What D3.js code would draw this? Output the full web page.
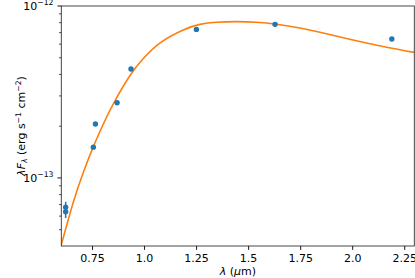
<!DOCTYPE html>
<meta charset="utf-8">
<style>
body { margin: 0; background: #fff; }
text { font-family: "DejaVu Sans", sans-serif; fill: #000; }
</style>
<svg width="415" height="278"></svg>
<script src="https://d3js.org/d3.v7.min.js"></script>
<script>
// photometry (wavelength in micron, lambda*F_lambda in erg/s/cm2)
var obsWave = [0.621, 0.621, 0.754, 0.764, 0.868, 0.935, 1.249, 1.627, 2.188];
var obsFlux = [6.76e-14, 6.37e-14, 1.51e-13, 2.06e-13, 2.74e-13, 4.30e-13, 7.31e-13, 7.82e-13, 6.43e-13];
var obsErr  = [5.2e-15, 5.2e-15, 1.5e-15, 2e-15, 2.5e-15, 4e-15, 7e-15, 8e-15, 6e-15];

// model curve
var modelWave = [0.600, 0.658, 0.706, 0.754, 0.802, 0.850, 0.930, 0.994, 1.075, 1.186,
                 1.266, 1.346, 1.442, 1.538, 1.634, 1.746, 1.858, 1.986, 2.146, 2.296];
var modelFlux = [4.08e-14, 7.24e-14, 1.079e-13, 1.52e-13, 2.06e-13, 2.70e-13, 3.94e-13, 4.95e-13,
                 6.11e-13, 7.26e-13, 7.82e-13, 8.04e-13, 8.11e-13, 8.04e-13, 7.83e-13, 7.45e-13,
                 6.97e-13, 6.41e-13, 5.81e-13, 5.37e-13];

var xTicks = [0.75, 1.0, 1.25, 1.5, 1.75, 2.0, 2.25];
var xTickLabels = ["0.75", "1.0", "1.25", "1.5", "1.75", "2.0", "2.25"];
var yMajor = [1e-13, 1e-12];
var yMajorExp = ["\u221213", "\u221212"];

var svg = d3.select("svg"),
    pLeft = 61.3, pRight = 414.3, pTop = 6, pBottom = 246,
    fs = 11, fsSup = 7.7, majorLen = 3.9, minorLen = 2.2;

var x = d3.scaleLinear().domain([0.6, 2.296]).range([pLeft, pRight]);
var y = d3.scaleLog().domain([4.02e-14, 1e-12]).range([pBottom, pTop]);

// clip for the curve
svg.append("clipPath").attr("id", "clip")
  .append("rect").attr("x", pLeft).attr("y", pTop)
  .attr("width", pRight - pLeft).attr("height", pBottom - pTop);

var plot = svg.append("g").attr("clip-path", "url(#clip)");

var line = d3.line()
  .x(function(d, i) { return x(modelWave[i]); })
  .y(function(d) { return y(d); })
  .curve(d3.curveNatural);

plot.append("path")
  .datum(modelFlux)
  .attr("d", line)
  .attr("fill", "none")
  .attr("stroke", "#ff7f0e")
  .attr("stroke-width", 1.6);

// error bars
plot.selectAll(".err")
  .data(obsFlux)
  .enter().append("line")
  .attr("x1", function(d, i) { return x(obsWave[i]); })
  .attr("x2", function(d, i) { return x(obsWave[i]); })
  .attr("y1", function(d, i) { return y(d - obsErr[i]); })
  .attr("y2", function(d, i) { return y(d + obsErr[i]); })
  .attr("stroke", "#1f77b4")
  .attr("stroke-width", 1.5);

plot.selectAll(".pt")
  .data(obsFlux)
  .enter().append("circle")
  .attr("cx", function(d, i) { return x(obsWave[i]); })
  .attr("cy", function(d) { return y(d); })
  .attr("r", 2.7)
  .attr("fill", "#1f77b4");

// frame
svg.append("rect")
  .attr("x", pLeft).attr("y", pTop)
  .attr("width", pRight - pLeft).attr("height", pBottom - pTop)
  .attr("fill", "none").attr("stroke", "#333").attr("stroke-width", 0.9);

// x axis ticks
var xg = svg.append("g");
xTicks.forEach(function(t, i) {
  xg.append("line").attr("x1", x(t)).attr("x2", x(t))
    .attr("y1", pBottom).attr("y2", pBottom + majorLen)
    .attr("stroke", "#000").attr("stroke-width", 0.9);
  xg.append("text").attr("x", x(t)).attr("y", 261.5)
    .attr("text-anchor", "middle").attr("font-size", fs)
    .text(xTickLabels[i]);
});

// y axis ticks
var yg = svg.append("g");
var minor = [];
[-14, -13].forEach(function(e) {
  for (var m = 2; m <= 9; m++) {
    var v = m * Math.pow(10, e);
    if (v > y.domain()[0] && v < y.domain()[1]) minor.push(v);
  }
});
minor.forEach(function(v) {
  yg.append("line").attr("x1", pLeft).attr("x2", pLeft - minorLen)
    .attr("y1", y(v)).attr("y2", y(v))
    .attr("stroke", "#000").attr("stroke-width", 0.7);
});
yMajor.forEach(function(v, i) {
  yg.append("line").attr("x1", pLeft).attr("x2", pLeft - majorLen)
    .attr("y1", y(v)).attr("y2", y(v))
    .attr("stroke", "#000").attr("stroke-width", 0.9);
  var t = yg.append("text").attr("x", pLeft - 2 * majorLen).attr("y", y(v) + 4.2)
    .attr("text-anchor", "end").attr("font-size", fs);
  t.append("tspan").text("10");
  t.append("tspan").attr("font-size", fsSup).attr("dy", -5).text(yMajorExp[i]);
});

// axis labels
var xl = svg.append("text")
  .attr("x", (pLeft + pRight) / 2).attr("y", 274.5)
  .attr("text-anchor", "middle").attr("font-size", fs);
xl.append("tspan").attr("font-style", "italic").text("\u03bb");
xl.append("tspan").text(" (");
xl.append("tspan").attr("font-style", "italic").text("\u03bc");
xl.append("tspan").text("m)");

var yl = svg.append("text")
  .attr("transform", "translate(25," + ((pTop + pBottom) / 2) + ") rotate(-90)")
  .attr("text-anchor", "middle").attr("font-size", fs);
yl.append("tspan").attr("font-style", "italic").text("\u03bbF");
yl.append("tspan").attr("font-style", "italic").attr("font-size", fsSup).attr("dy", 2.2).text("\u03bb");
yl.append("tspan").attr("dy", -2.2).text(" (erg s");
yl.append("tspan").attr("font-size", fsSup).attr("dy", -4.5).text("\u22121");
yl.append("tspan").attr("dy", 4.5).text(" cm");
yl.append("tspan").attr("font-size", fsSup).attr("dy", -4.5).text("\u22122");
yl.append("tspan").attr("dy", 4.5).text(")");
</script>
